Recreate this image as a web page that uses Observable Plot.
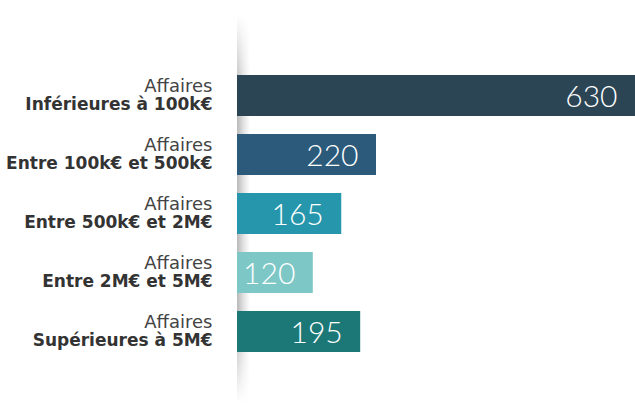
<!DOCTYPE html>
<html>
<head>
<meta charset="utf-8">
<script src="https://cdn.jsdelivr.net/npm/d3@7"></script>
<script src="https://cdn.jsdelivr.net/npm/@observablehq/plot@0.6"></script>
<style>
  html, body { margin: 0; padding: 0; background: #fff; }
</style>
</head>
<body>
<div id="chart"></div>
<script>
const prefixes = ["Affaires", "Affaires", "Affaires", "Affaires", "Affaires"];
const categories = ["Inférieures à 100k€", "Entre 100k€ et 500k€", "Entre 500k€ et 2M€", "Entre 2M€ et 5M€", "Supérieures à 5M€"];
const values = [630, 220, 165, 120, 195];
const colors = ["#2b4555", "#2b5a7b", "#2596ab", "#7dc8c6", "#1c7876"];

const data = categories.map((c, i) => ({cat: c, prefix: prefixes[i], value: values[i], color: colors[i]}));

const NS = "http://www.w3.org/2000/svg";
function el(name, attrs) {
  const e = document.createElementNS(NS, name);
  for (const k in attrs) e.setAttribute(k, attrs[k]);
  return e;
}

function shadow(index, scales, values, dimensions) {
  const g = el("g", {});
  const defs = el("defs", {});
  const gh = el("linearGradient", {id: "shh", x1: "0", x2: "1", y1: "0", y2: "0"});
  gh.appendChild(el("stop", {offset: "0", "stop-color": "#b8b8b8"}));
  gh.appendChild(el("stop", {offset: "0.5", "stop-color": "#e2e2e2"}));
  gh.appendChild(el("stop", {offset: "1", "stop-color": "#ffffff"}));
  const gv = el("linearGradient", {id: "shv", x1: "0", x2: "0", y1: "0", y2: "1"});
  gv.appendChild(el("stop", {offset: "0", "stop-color": "#fff", "stop-opacity": "0"}));
  gv.appendChild(el("stop", {offset: "0.2", "stop-color": "#fff", "stop-opacity": "1"}));
  gv.appendChild(el("stop", {offset: "0.8", "stop-color": "#fff", "stop-opacity": "1"}));
  gv.appendChild(el("stop", {offset: "1", "stop-color": "#fff", "stop-opacity": "0"}));
  const mask = el("mask", {id: "shm", maskUnits: "userSpaceOnUse", x: "0", y: "0", width: dimensions.width, height: dimensions.height});
  const x0 = scales.x(0);
  mask.appendChild(el("rect", {x: x0 - 2, y: 15, width: 16, height: dimensions.height - 15, fill: "url(#shv)"}));
  defs.appendChild(gh); defs.appendChild(gv); defs.appendChild(mask);
  g.appendChild(defs);
  g.appendChild(el("rect", {x: x0, y: 15, width: 13, height: dimensions.height - 15, fill: "url(#shh)", mask: "url(#shm)"}));
  return g;
}

const chart = Plot.plot({
  width: 635,
  height: 403,
  marginLeft: 237,
  marginRight: 0,
  marginTop: 57,
  marginBottom: 33,
  x: {domain: [0, 630], axis: null},
  y: {domain: categories, padding: 0.3, axis: null},
  style: {background: "#fff"},
  marks: [
    shadow,
    Plot.barX(data, {y: "cat", x: "value", fill: "color"}),
    Plot.text(data, {y: "cat", x: "value", text: d => String(d.value), textAnchor: "end", dx: -18, dy: 1,
      fill: "#fff", fontSize: 30, fontWeight: 300, fontFamily: "Lato, sans-serif"}),
    Plot.text(data, {y: "cat", x: () => 0, text: "prefix", textAnchor: "end", dx: -25, dy: -10,
      fill: "#444", fontSize: 18, fontFamily: "DejaVu Sans, sans-serif"}),
    Plot.text(data, {y: "cat", x: () => 0, text: "cat", textAnchor: "end", dx: -25, dy: 9,
      fill: "#333", fontSize: 17, fontWeight: "bold", fontFamily: "DejaVu Sans, sans-serif"})
  ]
});
document.getElementById("chart").appendChild(chart);
</script>
</body>
</html>
